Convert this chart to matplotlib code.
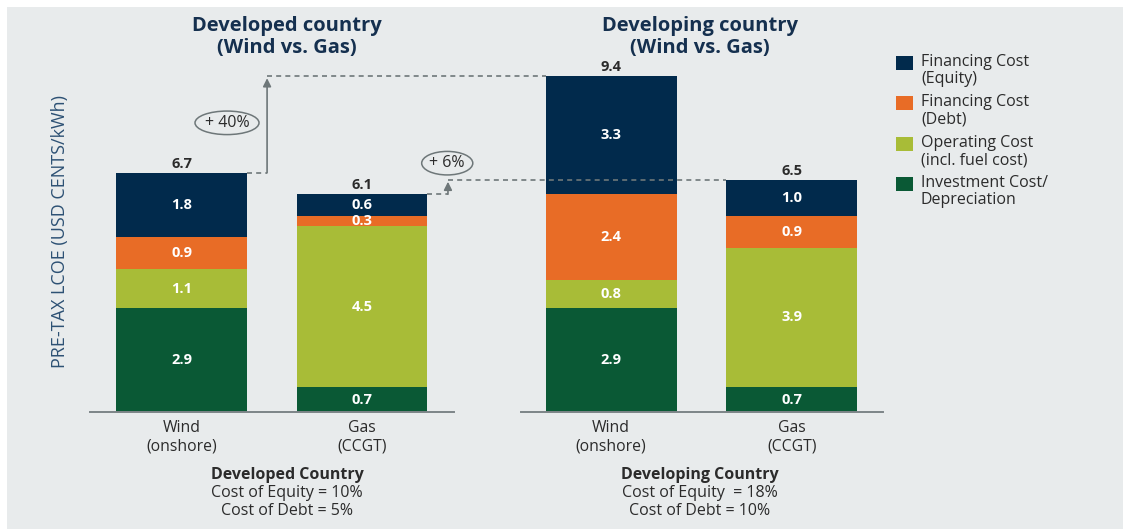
import matplotlib
matplotlib.use("Agg")
import matplotlib.pyplot as plt
from matplotlib.patches import Rectangle

plt.rcParams['font.family'] = ['Open Sans', 'DejaVu Sans']

# ---------------------------------------------------------
# Data
# ---------------------------------------------------------
tech_labels = ["Wind\n(onshore)", "Gas\n(CCGT)", "Wind\n(onshore)", "Gas\n(CCGT)"]
investment = [2.9, 0.7, 2.9, 0.7]
operating = [1.1, 4.5, 0.8, 3.9]
debt_cost = [0.9, 0.3, 2.4, 0.9]
equity_cost = [1.8, 0.6, 3.3, 1.0]
totals = [6.7, 6.1, 9.4, 6.5]
increase_labels = ["+ 40%", "+ 6%"]

series_names = ["Financing Cost\n(Equity)", "Financing Cost\n(Debt)",
                "Operating Cost\n(incl. fuel cost)", "Investment Cost/\nDepreciation"]

group_titles = ["Developed country\n(Wind vs. Gas)", "Developing country\n(Wind vs. Gas)"]
group_notes = [("Developed Country", "Cost of Equity = 10%\nCost of Debt = 5%"),
               ("Developing Country", "Cost of Equity  = 18%\nCost of Debt = 10%")]

# ---------------------------------------------------------
# Styling
# ---------------------------------------------------------
C_EQUITY = '#012a4c'
C_DEBT = '#e86c26'
C_OPER = '#a8bc37'
C_INVEST = '#0a5935'
BG = '#e8ebec'
NAVY = '#15304f'
TXT = '#2b2b2b'
GRAY = '#6e7779'

W, H = 1123, 531
fig = plt.figure(figsize=(W / 100, H / 100), dpi=100)
fig.patch.set_facecolor('white')
fig.patches.append(Rectangle((7 / W, 2 / H), 1, 1 - 9 / H, transform=fig.transFigure,
                             facecolor=BG, edgecolor='none', zorder=-10))


def fx(px):
    return px / W


def fy(py):
    return 1 - py / H


# axes: baseline at y=412 px, 35.7 px per unit
ax = fig.add_axes([fx(90), fy(412), (883 - 90) / W, (412 - 7) / H])
ax.set_facecolor('none')
ax.set_xlim(-0.507, 3.886)
ax.set_ylim(0, 405 / 35.7)
for s in ax.spines.values():
    s.set_visible(False)
ax.set_xticks([])
ax.set_yticks([])

xpos = [0, 1, 2.38, 3.38]
bw = 0.725

bottom = [0] * 4
for vals, col in [(investment, C_INVEST), (operating, C_OPER),
                  (debt_cost, C_DEBT), (equity_cost, C_EQUITY)]:
    ax.bar(xpos, vals, bw, bottom=bottom, color=col, edgecolor='none', zorder=2)
    for x, v, b in zip(xpos, vals, bottom):
        ax.text(x, b + v / 2, f"{v:.1f}", ha='center', va='center', color='white',
                fontsize=10.5, fontweight='bold', zorder=3)
    bottom = [b + v for b, v in zip(bottom, vals)]

for x, t in zip(xpos, totals):
    ax.text(x, t + 0.26, f"{t:.1f}", ha='center', va='center', color=TXT,
            fontsize=10.5, fontweight='bold')

# baselines
ax.plot([-0.507, 1.51], [0, 0], color='#7d8588', lw=1.4, clip_on=False)
ax.plot([1.88, 3.886], [0, 0], color='#7d8588', lw=1.4, clip_on=False)

# connectors: developed -> developing
arrow_x = [0.474, 1.476]
label_pos = [(0.252, 8.1), (1.472, 6.97)]
for i in range(2):
    src, dst = i, i + 2
    ax.plot([xpos[src] + bw / 2, arrow_x[i]], [totals[src], totals[src]],
            color=GRAY, lw=1.2, ls=(0, (3, 2.5)))
    ax.annotate('', xy=(arrow_x[i], totals[dst] - 0.05), xytext=(arrow_x[i], totals[src]),
                arrowprops=dict(arrowstyle='-|>', color=GRAY, lw=1.2,
                                mutation_scale=12, shrinkA=0, shrinkB=0))
    ax.plot([arrow_x[i], xpos[dst] - bw / 2], [totals[dst], totals[dst]],
            color=GRAY, lw=1.2, ls=(0, (3, 2.5)))
    lx, ly = label_pos[i]
    ax.text(lx, ly, increase_labels[i], ha='center', va='center', color=TXT, fontsize=11.5,
            bbox=dict(boxstyle='ellipse,pad=0.02', facecolor='none', edgecolor=GRAY, lw=1.1))

# category labels under bars
for x, lab in zip(xpos, tech_labels):
    ax.text(x, -0.22, lab, ha='center', va='top', color=TXT, fontsize=11.3,
            linespacing=1.2)

# titles
for cx, title in zip([287, 700], group_titles):
    fig.text(fx(cx), fy(37), title, ha='center', va='center', color=NAVY,
             fontsize=14.5, fontweight='bold', linespacing=1.15)

# bottom notes
for cx, (head, body) in zip([287, 700], group_notes):
    fig.text(fx(cx), fy(475), head, ha='center', va='center', color=TXT,
             fontsize=11.5, fontweight='bold')
    fig.text(fx(cx), fy(502), body, ha='center', va='center', color=TXT,
             fontsize=11.5, linespacing=1.15)

# y label
fig.text(fx(60), fy(232), "PRE-TAX LCOE (USD CENTS/kWh)", rotation=90, ha='center',
         va='center', color='#2d5174', fontsize=13)

# legend (drawn by hand so the swatch sits on the first line)
legend_colors = [C_EQUITY, C_DEBT, C_OPER, C_INVEST]
for i, (name, col) in enumerate(zip(series_names, legend_colors)):
    top = 56 + i * 40.3
    fig.patches.append(Rectangle((fx(896), fy(top + 14)), 17 / W, 14 / H,
                                 transform=fig.transFigure, facecolor=col,
                                 edgecolor='none'))
    fig.text(fx(921), fy(top - 2), name, ha='left', va='top', color=TXT,
             fontsize=11.5, linespacing=1.12)

fig.savefig('out.png', dpi=100, facecolor=fig.get_facecolor())
